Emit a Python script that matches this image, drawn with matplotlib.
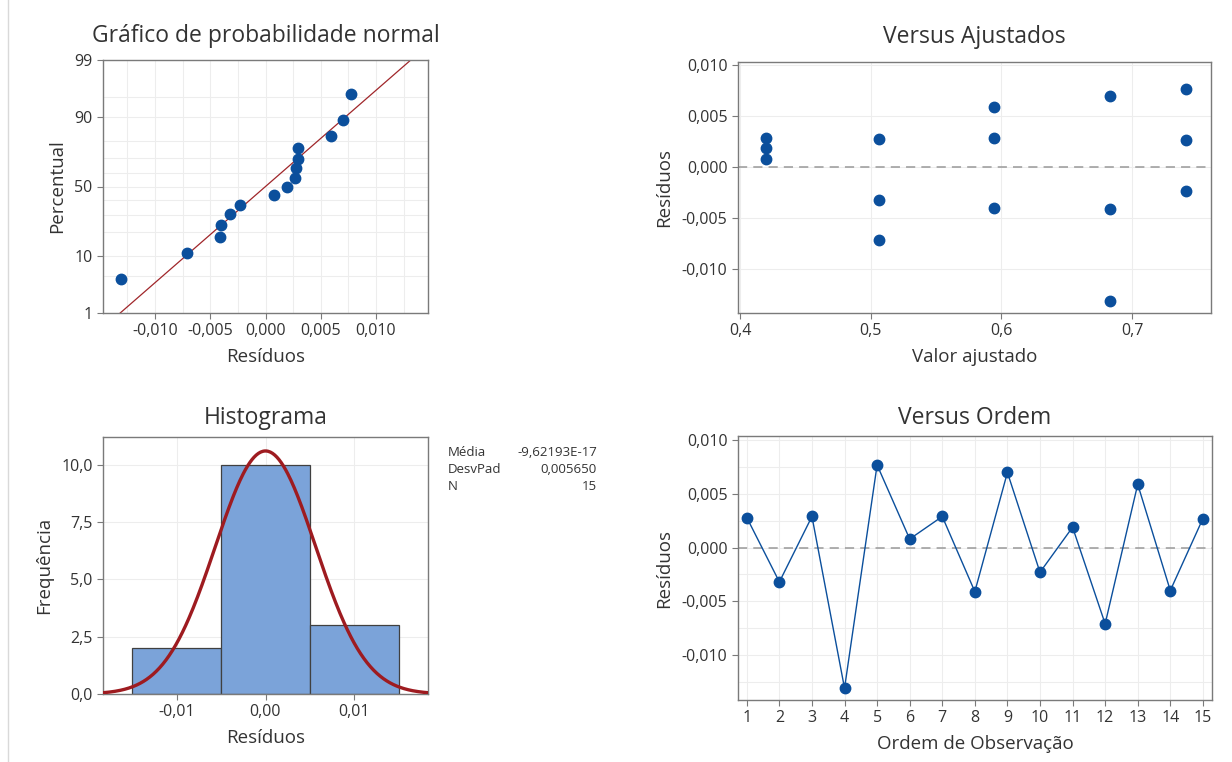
from statistics import NormalDist

import matplotlib
matplotlib.use("Agg")
import matplotlib.pyplot as plt
import numpy as np
from matplotlib.lines import Line2D
from matplotlib.ticker import FixedLocator, FuncFormatter, MultipleLocator

plt.rcParams["font.family"] = ["Open Sans", "DejaVu Sans"]

# residuals in observation order (read from "Versus Ordem")
order = list(range(1, 16))
residuals = [0.0028, -0.0032, 0.0029, -0.0131, 0.0077, 0.0008, 0.0029, -0.0041,
             0.0070, -0.0023, 0.0019, -0.0071, 0.0059, -0.0040, 0.0027]
# fitted value for each observation (read from "Versus Ajustados")
fitted = [0.506, 0.506, 0.420, 0.683, 0.741, 0.420, 0.594, 0.683,
          0.683, 0.741, 0.420, 0.506, 0.594, 0.594, 0.741]
# plotting percentiles of the sorted residuals
prob_pct = [4.5, 11.0, 17.5, 24.0, 30.5, 37.0, 43.5, 50.0,
            56.5, 63.0, 69.5, 76.0, 82.5, 89.0, 95.5]
prob_ticks = [1, 10, 50, 90, 99]
prob_grid = [1, 5, 10, 20, 30, 40, 50, 60, 70, 80, 90, 95, 99]
hist_edges = [-0.015, -0.005, 0.005, 0.015]
res_mean = 0.0
res_sd = 0.005650
stats_labels = ["Média", "DesvPad", "N"]
stats_values = ["-9,62193E-17", "0,005650", "15"]

BLUE = "#0b4f9c"
TEXT = "#333333"
GRID = "#ededed"
FRAME = "#7a7a7a"

W, H = 1232, 762


def box(left, top, right, bottom):
    return [left / W, 1 - bottom / H, (right - left) / W, (bottom - top) / H]


def comma(fmt):
    return FuncFormatter(lambda v, p: fmt.format(v + 0.0).replace(".", ","))


def style(ax):
    for s in ax.spines.values():
        s.set_color(FRAME)
        s.set_linewidth(1.0)
    ax.tick_params(colors=FRAME, labelcolor=TEXT, labelsize=11.5, length=4, width=0.8)
    ax.tick_params(which="minor", length=0)
    ax.set_axisbelow(True)


def labels(ax, title, xlabel, ylabel, pad):
    ax.set_title(title, fontsize=16.5, color=TEXT, pad=pad)
    ax.set_xlabel(xlabel, fontsize=13.5, color=TEXT, labelpad=6)
    ax.set_ylabel(ylabel, fontsize=13.5, color=TEXT, labelpad=6)


fig = plt.figure(figsize=(W / 100, H / 100), dpi=100)
fig.add_artist(Line2D([8 / W, 8 / W], [0, 1], color="#d9d9d9", lw=1))

# normal probability plot
nd = NormalDist()
fwd = np.vectorize(lambda p: nd.inv_cdf(min(max(p, 1e-6), 100 - 1e-6) / 100))
inv = np.vectorize(lambda z: nd.cdf(z) * 100)
ax1 = fig.add_axes(box(103, 60, 428, 313))
style(ax1)
ax1.set_yscale("function", functions=(fwd, inv))
ax1.set_ylim(1, 99)
ax1.set_xlim(-0.0147, 0.0147)
ax1.yaxis.set_major_locator(FixedLocator(prob_ticks))
ax1.yaxis.set_minor_locator(FixedLocator(prob_grid))
ax1.yaxis.set_major_formatter(FuncFormatter(lambda v, p: f"{v:g}"))
ax1.xaxis.set_major_locator(MultipleLocator(0.005))
ax1.xaxis.set_minor_locator(MultipleLocator(0.0025))
ax1.xaxis.set_major_formatter(comma("{:.3f}"))
ax1.grid(True, which="both", color=GRID, lw=0.8)
line_p = np.array([1, 99], dtype=float)
line_x = [res_mean + res_sd * nd.inv_cdf(p / 100) for p in line_p]
ax1.plot(line_x, line_p, color="#a0262a", lw=0.9, zorder=2)
ax1.plot(sorted(residuals), prob_pct, "o", color=BLUE, ms=7.5, zorder=3)
labels(ax1, "Gráfico de probabilidade normal", "Resíduos", "Percentual", 13)

# versus fits
ax2 = fig.add_axes(box(738, 62, 1211, 313))
style(ax2)
ax2.set_xlim(0.3985, 0.7604)
ax2.set_ylim(-0.0143, 0.0103)
ax2.xaxis.set_major_locator(MultipleLocator(0.1))
ax2.xaxis.set_major_formatter(comma("{:.1f}"))
ax2.yaxis.set_major_locator(MultipleLocator(0.005))
ax2.yaxis.set_major_formatter(comma("{:.3f}"))
ax2.grid(True, color=GRID, lw=0.8)
ax2.axhline(0, color="#999999", lw=1.1, ls=(0, (6, 4)), zorder=2)
ax2.plot(fitted, residuals, "o", color=BLUE, ms=7.5, zorder=3)
labels(ax2, "Versus Ajustados", "Valor ajustado", "Resíduos", 14)

# histogram
ax3 = fig.add_axes(box(103, 437, 428, 694))
style(ax3)
ax3.set_xlim(-0.0183, 0.0183)
ax3.set_ylim(0, 11.2)
ax3.hist(residuals, bins=hist_edges, color="#7ba3d9", edgecolor="#404040", lw=0.9, zorder=2)
xs = np.linspace(-0.0183, 0.0183, 300)
binw = hist_edges[1] - hist_edges[0]
curve = len(residuals) * binw * np.exp(-0.5 * ((xs - res_mean) / res_sd) ** 2) / (res_sd * np.sqrt(2 * np.pi))
ax3.plot(xs, curve, color="#9e1b20", lw=2.4, zorder=3)
ax3.xaxis.set_major_locator(MultipleLocator(0.01))
ax3.xaxis.set_major_formatter(comma("{:.2f}"))
ax3.yaxis.set_major_locator(MultipleLocator(2.5))
ax3.yaxis.set_major_formatter(comma("{:.1f}"))
ax3.grid(True, color=GRID, lw=0.8)
labels(ax3, "Histograma", "Resíduos", "Frequência", 9)
for i, (lab, val) in enumerate(zip(stats_labels, stats_values)):
    yy = 1 - (452 + 17 * i) / H
    fig.text(448 / W, yy, lab, fontsize=9.5, color=TEXT, va="center", ha="left")
    fig.text(597 / W, yy, val, fontsize=9.5, color=TEXT, va="center", ha="right")

# versus order
ax4 = fig.add_axes(box(738, 436, 1212, 700))
style(ax4)
ax4.set_xlim(0.73, 15.28)
ax4.set_ylim(-0.0142, 0.0104)
ax4.xaxis.set_major_locator(FixedLocator(order))
ax4.yaxis.set_major_locator(MultipleLocator(0.005))
ax4.yaxis.set_minor_locator(MultipleLocator(0.0025))
ax4.yaxis.set_major_formatter(comma("{:.3f}"))
ax4.grid(True, which="both", color=GRID, lw=0.8)
ax4.axhline(0, color="#999999", lw=1.1, ls=(0, (6, 4)), zorder=2)
ax4.plot(order, residuals, "-o", color=BLUE, lw=1.0, ms=7.5, zorder=3)
labels(ax4, "Versus Ordem", "Ordem de Observação", "Resíduos", 9)

fig.savefig("out.png", dpi=100)
